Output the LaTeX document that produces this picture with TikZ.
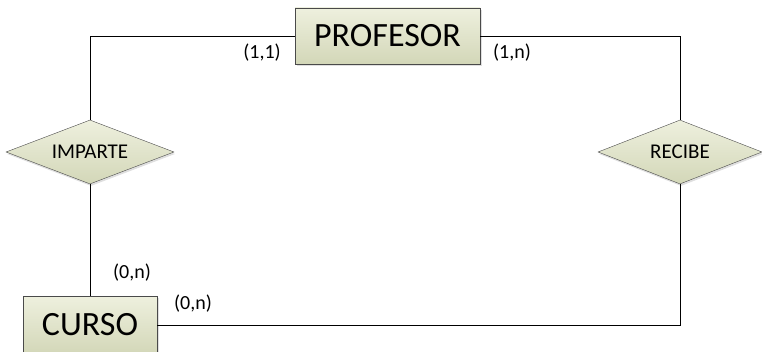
\documentclass[tikz,border=0pt]{standalone}
\usepackage{fontspec}
\setmainfont{Carlito}
\usetikzlibrary{shapes.geometric,shadows}

\definecolor{boxtop}{HTML}{EEF0DE}
\definecolor{boxbot}{HTML}{D3D7B8}
\definecolor{boxline}{HTML}{4A4A4A}

\tikzset{
  entity/.style={rectangle, draw=boxline, top color=boxtop, bottom color=boxbot,
    drop shadow={shadow xshift=2pt, shadow yshift=-2pt, opacity=0.25}},
  relation/.style={diamond, draw=boxline, top color=boxtop, bottom color=boxbot,
    inner sep=0pt, aspect=2.6, font=\fontsize{21}{23}\selectfont,
    drop shadow={shadow xshift=1pt, shadow yshift=-2pt, opacity=0.25}},
  card/.style={font=\fontsize{20}{22}\selectfont}
}

\begin{document}
\begin{tikzpicture}[x=1pt,y=-1pt]
  \useasboundingbox (0,0) rectangle (762,352);

  \node[entity, minimum width=185pt, minimum height=56pt,
    font=\fontsize{34}{36}\selectfont] (profesor) at (387.5,36) {PROFESOR};
  \node[entity, minimum width=134pt, minimum height=58pt,
    font=\fontsize{34}{36}\selectfont] (curso) at (90,325) {CURSO};

  \node[relation, minimum width=168pt, minimum height=64pt] (imparte) at (90,152) {IMPARTE};
  \node[relation, minimum width=164pt, minimum height=64pt] (recibe) at (680,152) {RECIBE};

  \draw (profesor.west) -| (imparte.north);
  \draw (profesor.east) -| (recibe.north);
  \draw (imparte.south) -- (curso.north);
  \draw (curso.east) -| (recibe.south);

  \node[card] (c11) at (262,53) {(1,1)};
  \node[card] (c1n) at (512,53) {(1,n)};
  \node[card] (c0n) at (132,273) {(0,n)};
  \node[card] (c0nb) at (193,304) {(0,n)};
\end{tikzpicture}
\end{document}
